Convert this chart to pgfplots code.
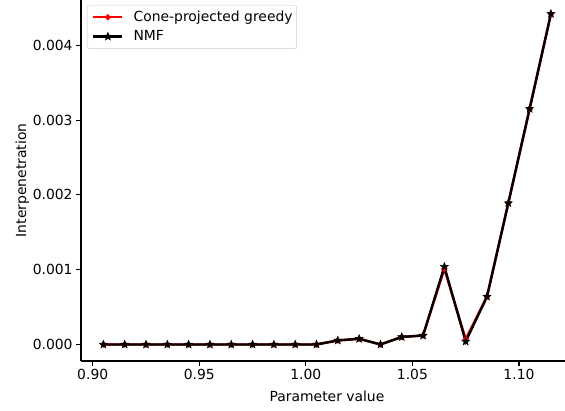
\documentclass[border=0pt]{standalone}
\usepackage{fontspec}
\setmainfont{DejaVu Sans}
\usepackage{pgfplots}
\pgfplotsset{compat=1.18}

% filled five-pointed star, like matplotlib's '*'
\pgfdeclareplotmark{fstar}{%
  \pgfpathmoveto{\pgfpointpolar{90}{\pgfplotmarksize}}%
  \pgfpathlineto{\pgfpointpolar{126}{0.42\pgfplotmarksize}}%
  \pgfpathlineto{\pgfpointpolar{162}{\pgfplotmarksize}}%
  \pgfpathlineto{\pgfpointpolar{198}{0.42\pgfplotmarksize}}%
  \pgfpathlineto{\pgfpointpolar{234}{\pgfplotmarksize}}%
  \pgfpathlineto{\pgfpointpolar{270}{0.42\pgfplotmarksize}}%
  \pgfpathlineto{\pgfpointpolar{306}{\pgfplotmarksize}}%
  \pgfpathlineto{\pgfpointpolar{342}{0.42\pgfplotmarksize}}%
  \pgfpathlineto{\pgfpointpolar{18}{\pgfplotmarksize}}%
  \pgfpathlineto{\pgfpointpolar{54}{0.42\pgfplotmarksize}}%
  \pgfpathclose\pgfusepathqfillstroke}

\definecolor{legframe}{gray}{0.8}

\begin{document}
\begin{tikzpicture}
\begin{axis}[
    scale only axis,
    width=484pt, height=361pt,
    xmin=0.8945, xmax=1.1216,
    ymin=-0.000221, ymax=0.004605,
    axis x line*=bottom, axis y line*=left,
    axis line style={line width=1.1pt, -},
    tick style={line width=1.1pt, black},
    tick align=outside, major tick length=4.9pt,
    xtick={0.90,0.95,1.00,1.05,1.10},
    ytick={0,0.001,0.002,0.003,0.004},
    scaled x ticks=false, scaled y ticks=false,
    xticklabel style={/pgf/number format/.cd, fixed, fixed zerofill, precision=2},
    yticklabel style={/pgf/number format/.cd, fixed, fixed zerofill, precision=3},
    /pgf/number format/assume math mode=true,
    ticklabel style={font=\fontsize{13.9}{16}\selectfont},
    label style={font=\fontsize{13.9}{16}\selectfont},
    xlabel={Parameter value},
    ylabel={Interpenetration},
    xlabel style={yshift=-4pt, xshift=4pt},
    ylabel style={yshift=-3pt},
    legend cell align=left,
    legend style={at={(axis description cs:0,1)}, anchor=north west,
        xshift=6pt, yshift=-5pt, draw=legframe, rounded corners=2pt,
        font=\fontsize{13.9}{16}\selectfont, row sep=3.5pt,
        inner xsep=2pt, inner ysep=4pt},
    legend image code/.code={%
        \path (-3pt,0pt) (37pt,0pt);
        \draw[mark repeat=2, mark phase=2] plot coordinates {(0pt,0pt) (14.5pt,0pt) (29pt,0pt)};},
    clip=false,
]
\addplot[red, line width=2.4pt, mark=*, mark size=1.6pt] coordinates {
(0.905,0) (0.915,0) (0.925,0) (0.935,0) (0.945,0) (0.955,0) (0.965,0)
(0.975,0) (0.985,0) (0.995,0) (1.005,0) (1.015,0.000054) (1.025,0.000076)
(1.035,0) (1.045,0.00010) (1.055,0.00012) (1.065,0.00101) (1.075,0.00007)
(1.085,0.00064) (1.095,0.00189) (1.105,0.00315) (1.115,0.00442)
};
\addlegendentry{Cone-projected greedy}
\addplot[black, line width=2.4pt, mark=fstar, mark size=4.2pt, mark options={line width=0.5pt}] coordinates {
(0.905,0) (0.915,0) (0.925,0) (0.935,0) (0.945,0) (0.955,0) (0.965,0)
(0.975,0) (0.985,0) (0.995,0) (1.005,0) (1.015,0.000054) (1.025,0.000076)
(1.035,0) (1.045,0.00010) (1.055,0.00012) (1.065,0.00104) (1.075,0.00004)
(1.085,0.00064) (1.095,0.00189) (1.105,0.00315) (1.115,0.00442)
};
\addlegendentry{NMF}
\end{axis}
\pgfresetboundingbox
\path[use as bounding box] (-81pt,-49pt) rectangle (484pt,361pt);
\end{tikzpicture}
\end{document}
